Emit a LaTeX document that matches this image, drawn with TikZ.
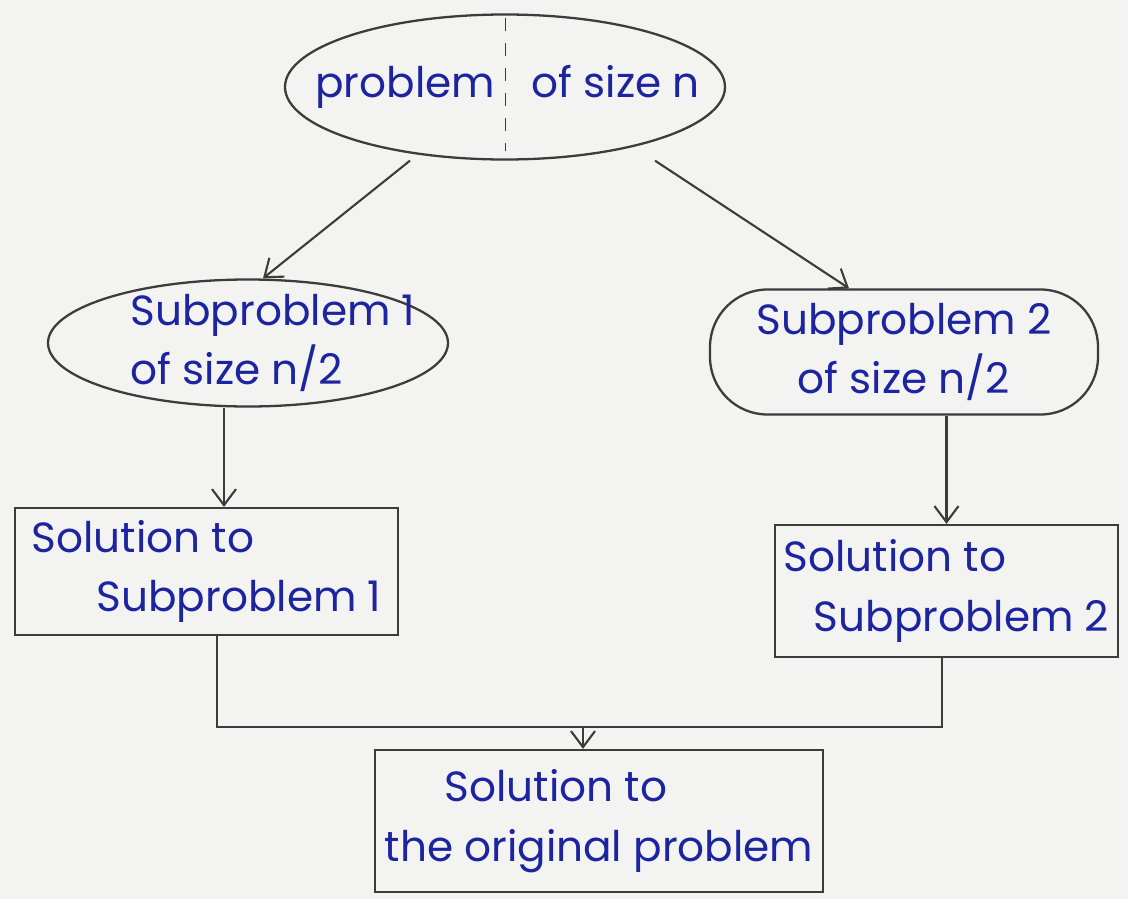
\documentclass[tikz,border=0pt]{standalone}
\usepackage{fontspec}
\setmainfont{Poppins}
\usetikzlibrary{shapes, arrows.meta, positioning, calc}
\definecolor{ink}{RGB}{28,36,160}
\definecolor{pencil}{RGB}{60,60,60}
\definecolor{paper}{RGB}{243,243,241}

\begin{document}
\begin{tikzpicture}[>={Straight Barb[length=3.2mm,width=4.8mm]},
    every node/.style={text=ink, font=\fontsize{24}{34}\selectfont},
    blob/.style={draw=pencil, line width=1.3pt, ellipse},
    pill/.style={draw=pencil, line width=1.3pt, rectangle, rounded corners=1.15cm, align=center},
    box/.style={draw=pencil, line width=1.3pt, rectangle, align=left},
    conn/.style={draw=pencil, line width=1.2pt}]

    \fill[paper] (0,0) rectangle (22.56,-17.98);

    % problem and its two halves
    \node[blob, minimum width=8.8cm, minimum height=2.9cm,
          label={[xshift=0.05cm]center:problem\hspace{0.6em} of size n}] (Top) at (10.1,-1.74) {};
    \draw[pencil, dash pattern=on 0.25cm off 0.25cm] ([yshift=-0.1cm]Top.north) -- ([yshift=0.2cm]Top.south);

    \node[blob, minimum width=8.0cm, minimum height=2.54cm,
          label={[align=left, xshift=0.5cm]center:Subproblem 1\\of size n/2}] (Sub1) at (4.96,-6.86) {};
    \node[pill, minimum width=7.76cm, minimum height=2.5cm] (Sub2) at (18.08,-7.04) {Subproblem 2\\of size n/2};

    % solutions
    \node[box, minimum width=7.66cm, minimum height=2.54cm] (Sol1) at (4.13,-11.43)
      {Solution to\\\hspace*{1.3cm}Subproblem 1};
    \node[box, minimum width=6.86cm, minimum height=2.64cm] (Sol2) at (18.93,-11.82)
      {Solution to\\\hspace*{0.6cm}Subproblem 2};
    \node[box, minimum width=8.96cm, minimum height=2.84cm] (Final) at (11.98,-16.42)
      {\hspace*{1.2cm}Solution to\\the original problem};

    \draw[conn,->] ([xshift=-1.9cm]Top.south) -- ([xshift=0.3cm]Sub1.north);
    \draw[conn,->] ([xshift=3cm]Top.south) -- ([xshift=-1.1cm]Sub2.north);

    \coordinate (A1) at ([xshift=0.35cm]Sol1.north);
    \draw[conn,->] (Sub1.south -| A1) -- (A1);
    \draw[conn,->] (Sub2.south -| Sol2.north) -- (Sol2.north);

    % merge
    \coordinate (Join) at (11.66,-14.54);
    \draw[conn] ([xshift=0.21cm]Sol1.south) |- (Join) -| ([xshift=-0.09cm]Sol2.south);
    \draw[conn,->] (Join) -- (Join |- Final.north);
\end{tikzpicture}
\end{document}
